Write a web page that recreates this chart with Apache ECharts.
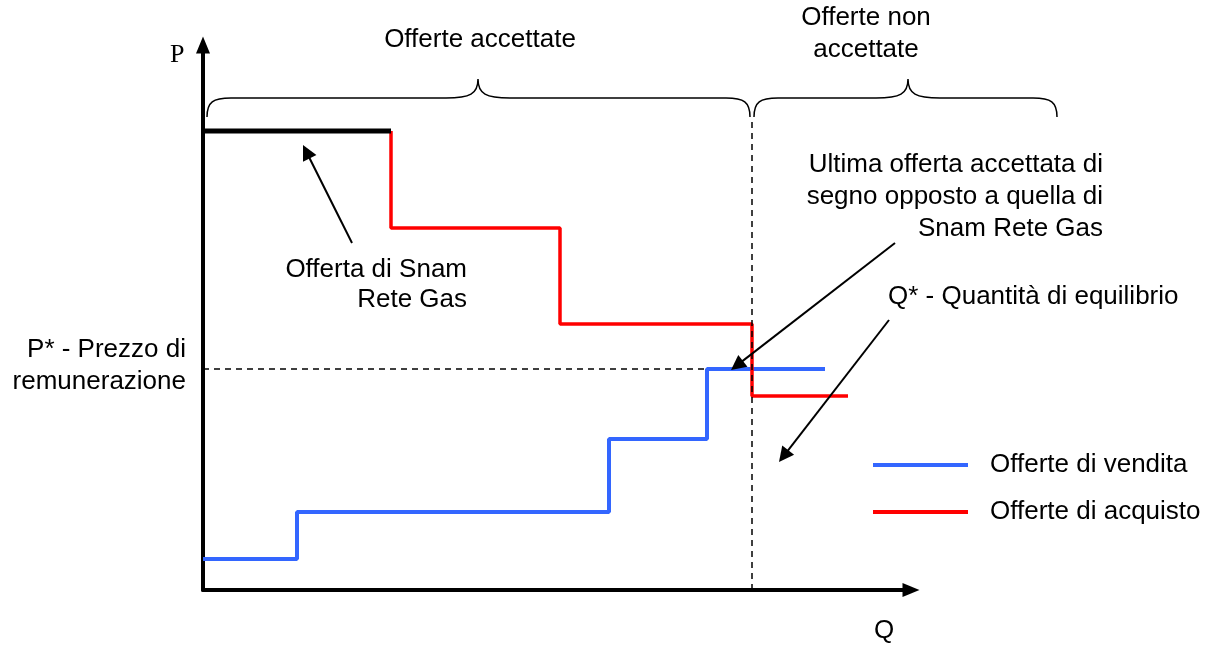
<!DOCTYPE html>
<html>
<head>
<meta charset="utf-8">
<script src="https://cdn.jsdelivr.net/npm/echarts@6/dist/echarts.min.js"></script>
<style>
  html, body { margin: 0; padding: 0; background: #fff; }
  #chart { width: 1217px; height: 648px; }
</style>
</head>
<body>
<div id="chart"></div>
<script>
// quantities / prices in axis units (origin = corner of the axes)
const sellQty = [0, 94, 406, 504, 622];
const sellPrice = [31, 78, 151, 221, 221];
const buyQty = [188, 357, 549, 645];
const buyPrice = [459, 362, 266, 194];
const snamQty = [0, 188];
const snamPrice = [459, 459];
const eqQty = 549;
const eqPrice = 221;
// brace spans: [start, end, tip]
const braceSpans = [[4, 547, 275], [551, 854, 705]];
// annotation arrows: [fromX, fromY, toX, toY]
const arrows = [[149, 347, 100, 445], [692, 347, 528, 220], [686, 270, 576, 128]];

const FONT = '"Liberation Sans", Arial, sans-serif';
const HEAD = 15;

const chart = echarts.init(document.getElementById('chart'));

const zip = (xs, ys) => xs.map((x, i) => [x, ys[i]]);

// the triangle head is centred on the end point, so pull the end back by half a head
function arrowLine(a) {
    const dx = a[2] - a[0], dy = a[3] - a[1];
    const len = Math.sqrt(dx * dx + dy * dy);
    const k = (HEAD / 2) / len;
    return [{ coord: [a[0], a[1]] }, { coord: [a[2] - dx * k, a[3] - dy * k] }];
}

const option = {
    animation: false,
    grid: { left: 203, top: 45, right: 306, bottom: 58 },
    xAxis: {
        type: 'value', min: 0, max: 708,
        axisLine: { show: true, symbol: ['none', 'triangle'], symbolSize: [14, 17], lineStyle: { color: '#000', width: 4 } },
        axisTick: { show: false }, axisLabel: { show: false }, splitLine: { show: false }
    },
    yAxis: {
        type: 'value', min: 0, max: 545,
        axisLine: { show: true, symbol: ['none', 'triangle'], symbolSize: [14, 17], lineStyle: { color: '#000', width: 4 } },
        axisTick: { show: false }, axisLabel: { show: false }, splitLine: { show: false }
    },
    legend: {
        orient: 'vertical', left: 873, top: 452, padding: 0, itemWidth: 95, itemHeight: 4, itemGap: 21,
        icon: 'rect',
        data: ['Offerte di vendita', 'Offerte di acquisto'],
        textStyle: { fontFamily: FONT, fontSize: 26, color: '#000', padding: [0, 0, 0, 17] }
    },
    series: [
        {
            name: 'Offerte di vendita', type: 'line', step: 'end', symbol: 'none',
            data: zip(sellQty, sellPrice),
            lineStyle: { color: '#3366ff', width: 4 }, itemStyle: { color: '#3366ff' },
            markLine: {
                silent: true, symbol: 'none', label: { show: false },
                lineStyle: { color: '#000', width: 1.5, type: [6, 5] },
                data: [
                    [{ coord: [0, eqPrice] }, { coord: [sellQty[3], eqPrice] }],
                    [{ coord: [eqQty, 0] }, { coord: [eqQty, 473] }]
                ]
            }
        },
        {
            name: 'Offerte di acquisto', type: 'line', step: 'start', symbol: 'none',
            data: zip(buyQty, buyPrice),
            lineStyle: { color: '#ff0000', width: 3.5 }, itemStyle: { color: '#ff0000' }
        },
        {
            name: 'Snam', type: 'line', symbol: 'none',
            data: zip(snamQty, snamPrice),
            lineStyle: { color: '#000', width: 5 },
            markLine: {
                silent: true, symbol: ['none', 'triangle'], symbolSize: HEAD, label: { show: false },
                lineStyle: { color: '#000', width: 2, type: 'solid' },
                data: arrows.map(arrowLine)
            }
        },
        {
            type: 'custom', clip: false, silent: true,
            encode: { x: [0, 1, 2] },
            data: braceSpans,
            renderItem: function (params, api) {
                const a = api.coord([api.value(0), 473]);
                const b = api.coord([api.value(1), 473]);
                const t = api.coord([api.value(2), 511]);
                const yE = a[1], yT = t[1], yM = (yE + yT) / 2;
                const x0 = a[0], x1 = b[0], xt = t[0];
                const r = 24, rt = 32;
                const d = 'M' + x0 + ',' + yE +
                    ' C' + x0 + ',' + (yM + 4) + ' ' + (x0 + 6) + ',' + yM + ' ' + (x0 + r) + ',' + yM +
                    ' L' + (xt - rt) + ',' + yM +
                    ' C' + (xt - 8) + ',' + yM + ' ' + xt + ',' + (yM - 4) + ' ' + xt + ',' + yT +
                    ' C' + xt + ',' + (yM - 4) + ' ' + (xt + 8) + ',' + yM + ' ' + (xt + rt) + ',' + yM +
                    ' L' + (x1 - r) + ',' + yM +
                    ' C' + (x1 - 6) + ',' + yM + ' ' + x1 + ',' + (yM + 4) + ' ' + x1 + ',' + yE;
                return {
                    type: 'path',
                    shape: { pathData: d },
                    style: { stroke: '#000', fill: 'none', lineWidth: 1.5 }
                };
            }
        }
    ],
    graphic: [
        { type: 'text', left: 170, top: 42, style: { text: 'P', font: '26px "Liberation Serif", serif', fill: '#000' } },
        { type: 'text', left: 874, top: 618, style: { text: 'Q', font: '26px ' + FONT, fill: '#000' } },
        { type: 'text', x: 480, y: 40, style: { text: 'Offerte accettate', font: '26px ' + FONT, fill: '#000', textAlign: 'center', textVerticalAlign: 'middle' } },
        { type: 'text', x: 866, y: 34, style: { text: 'Offerte non\naccettate', font: '26px ' + FONT, lineHeight: 32, fill: '#000', textAlign: 'center', textVerticalAlign: 'middle' } },
        { type: 'text', x: 467, y: 285, style: { text: 'Offerta di Snam\nRete Gas', font: '26px ' + FONT, lineHeight: 30, fill: '#000', textAlign: 'right', textVerticalAlign: 'middle' } },
        { type: 'text', x: 1103, y: 197, style: { text: 'Ultima offerta accettata di\nsegno opposto a quella di\nSnam Rete Gas', font: '26px ' + FONT, lineHeight: 32, fill: '#000', textAlign: 'right', textVerticalAlign: 'middle' } },
        { type: 'text', x: 888, y: 297, style: { text: 'Q* - Quantità di equilibrio', font: '26px ' + FONT, fill: '#000', textAlign: 'left', textVerticalAlign: 'middle' } },
        { type: 'text', x: 186, y: 366, style: { text: 'P* - Prezzo di\nremunerazione', font: '26px ' + FONT, lineHeight: 32, fill: '#000', textAlign: 'right', textVerticalAlign: 'middle' } }
    ]
};

chart.setOption(option);
</script>
</body>
</html>
